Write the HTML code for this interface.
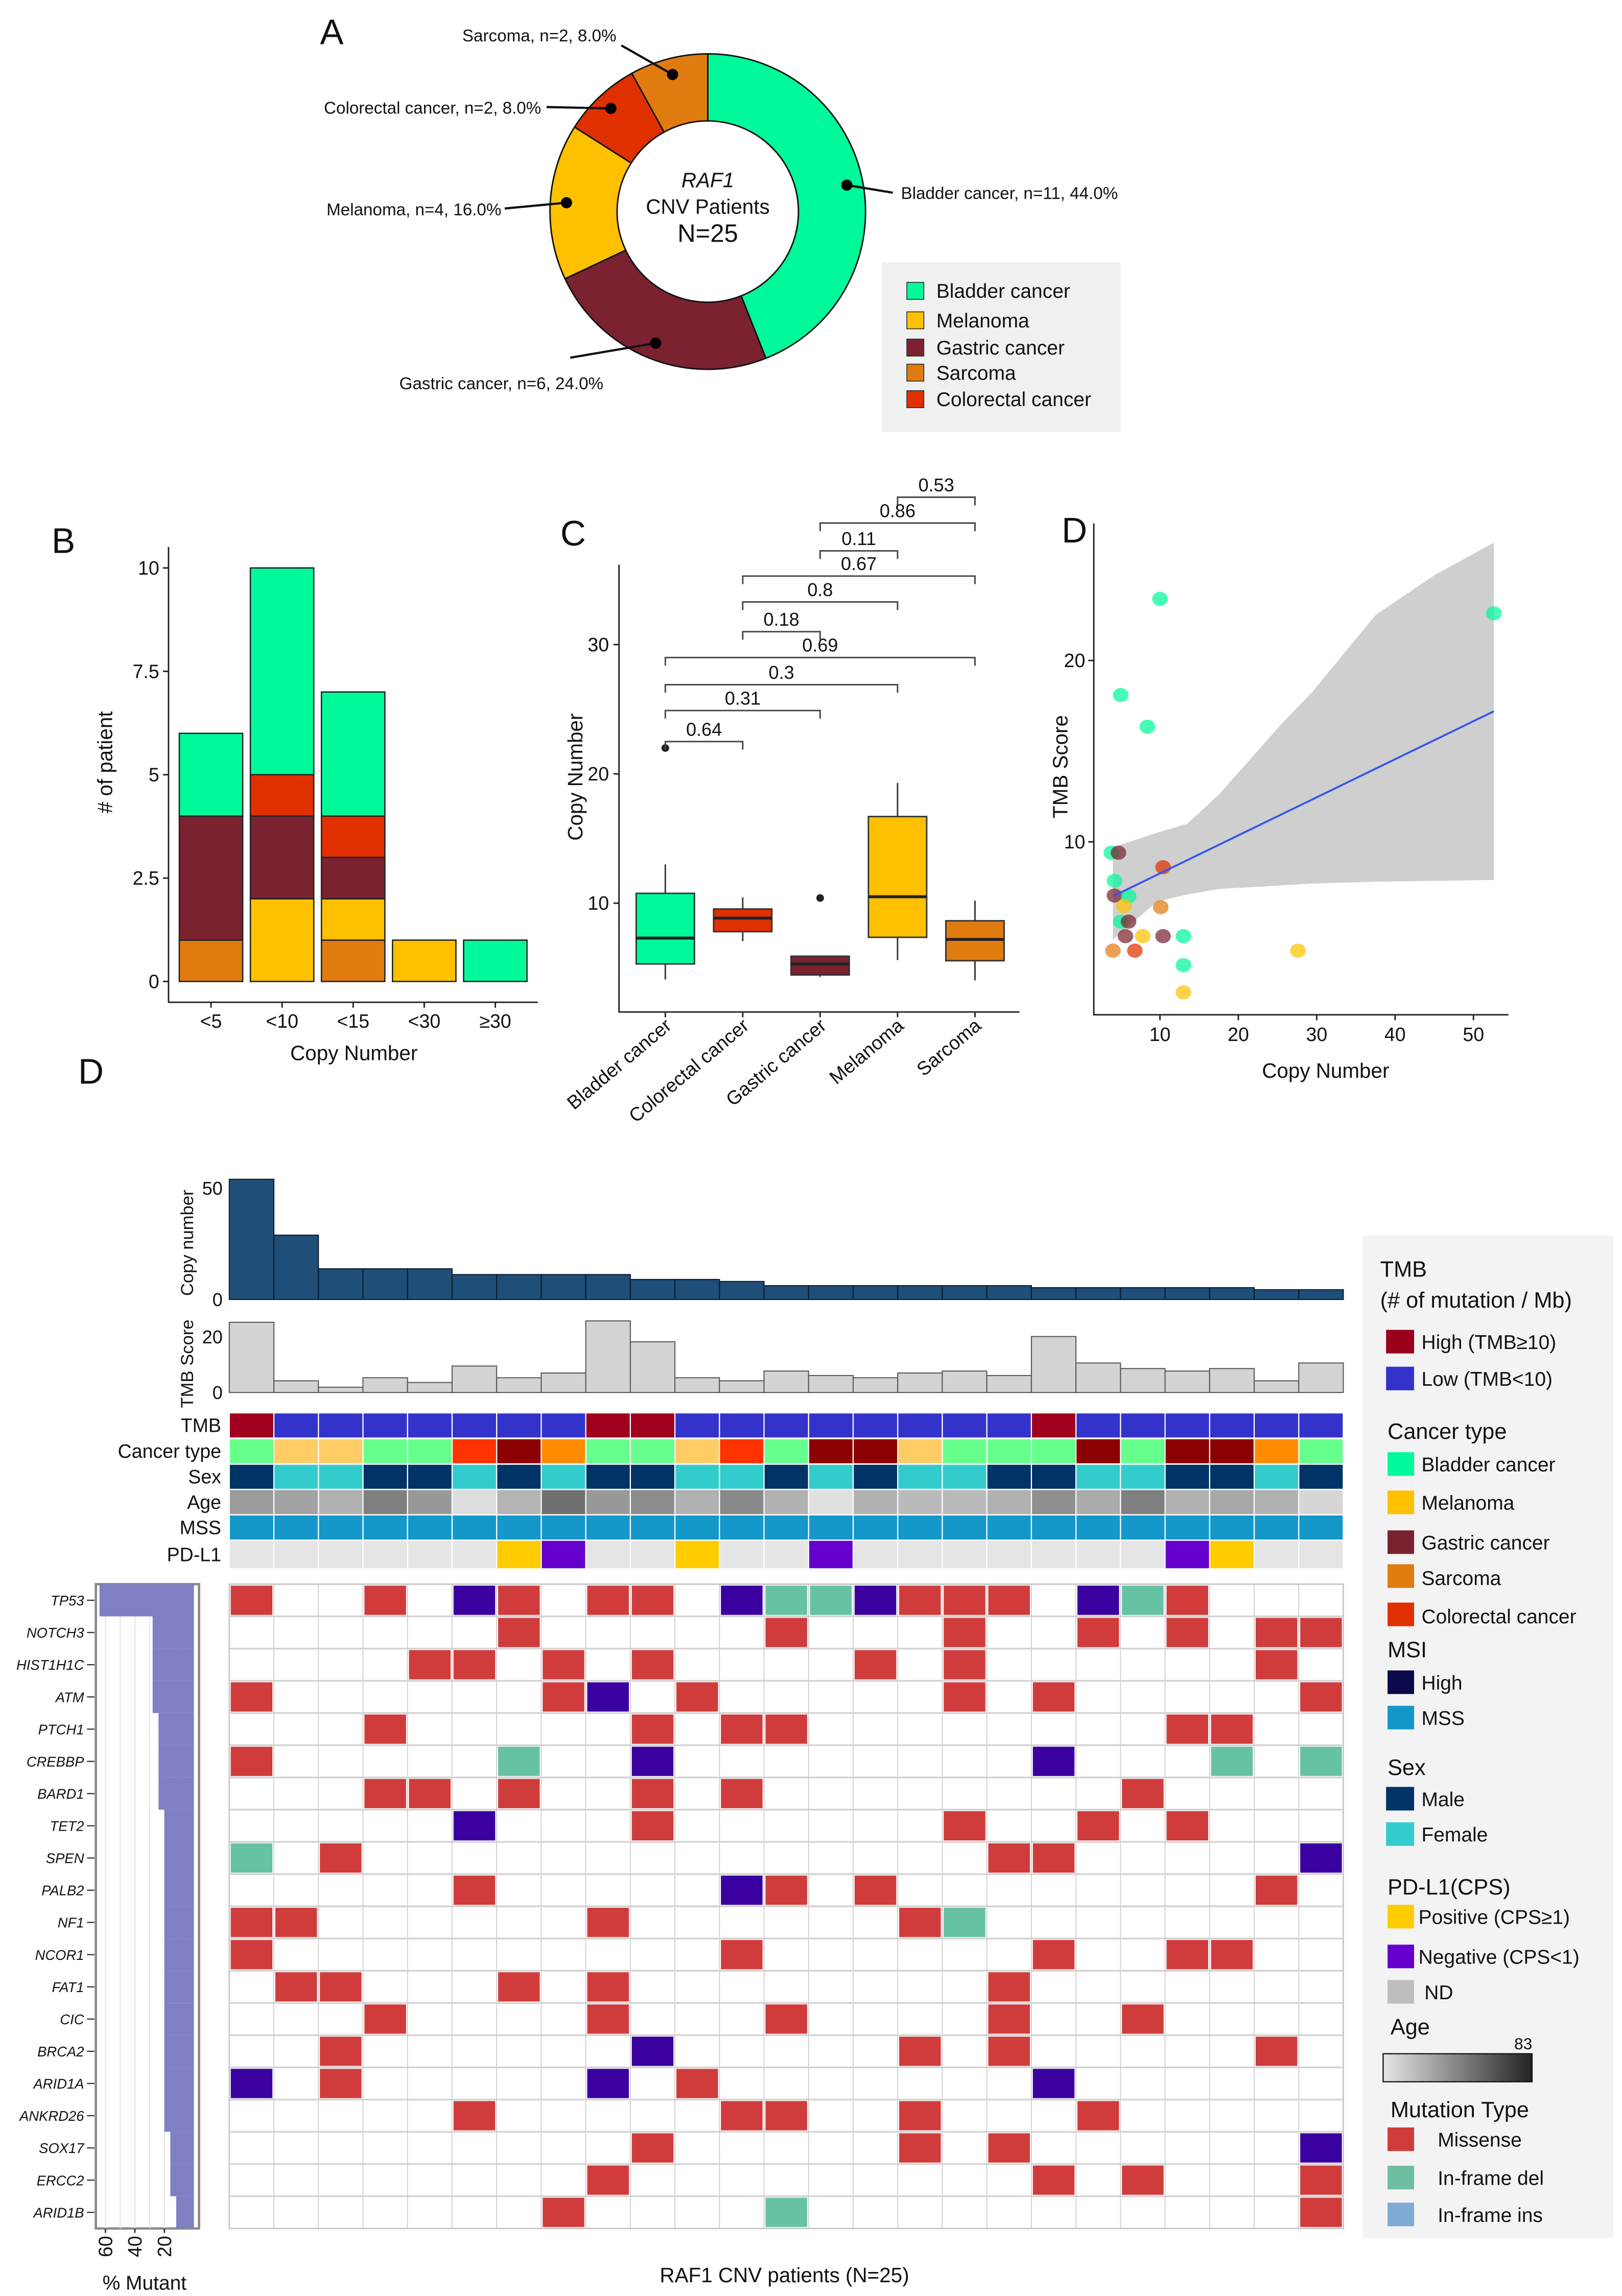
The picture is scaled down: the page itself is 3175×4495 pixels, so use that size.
<!DOCTYPE html>
<html><head><meta charset="utf-8"><title>RAF1 CNV figure</title>
<style>
html,body{margin:0;padding:0;background:#fff;}
svg{display:block;}
text{font-family:"Liberation Sans",Arial,sans-serif;fill:#111;}
</style></head>
<body>
<svg id="fig" xmlns="http://www.w3.org/2000/svg" width="3175" height="4495" viewBox="0 0 1100 1557.3">
<rect x="0" y="0" width="1100" height="1557.3" fill="#fff"/>
<!-- Panel letters -->
<text x="217" y="30" font-size="24">A</text>
<text x="35" y="375" font-size="24">B</text>
<text x="380" y="370" font-size="24">C</text>
<text x="720" y="368" font-size="24">D</text>
<text x="53" y="735" font-size="24">D</text>

<!-- Panel A legend -->
<g>
<rect x="598" y="178" width="162" height="115" fill="#f0f0f0"/>
<rect x="615" y="191.5" width="11.5" height="11.5" fill="#00FA9A" stroke="#333" stroke-width="0.6"/>
<text x="635" y="202" font-size="13.5">Bladder cancer</text>
<rect x="615" y="211.5" width="11.5" height="11.5" fill="#FFC000" stroke="#333" stroke-width="0.6"/>
<text x="635" y="222" font-size="13.5">Melanoma</text>
<rect x="615" y="230" width="11.5" height="11.5" fill="#7B2230" stroke="#333" stroke-width="0.6"/>
<text x="635" y="240.5" font-size="13.5">Gastric cancer</text>
<rect x="615" y="247" width="11.5" height="11.5" fill="#E07B10" stroke="#333" stroke-width="0.6"/>
<text x="635" y="257.5" font-size="13.5">Sarcoma</text>
<rect x="615" y="265" width="11.5" height="11.5" fill="#E03000" stroke="#333" stroke-width="0.6"/>
<text x="635" y="275.5" font-size="13.5">Colorectal cancer</text>
</g>

<!-- Oncoprint legend -->
<g font-size="13.5">
<rect x="924" y="838" width="170" height="680" fill="#f3f3f3"/>
<text x="936" y="866" font-size="15">TMB</text>
<text x="936" y="887" font-size="15">(# of mutation / Mb)</text>
<rect x="940" y="902" width="19" height="16" fill="#99001A"/>
<text x="964" y="915">High (TMB≥10)</text>
<rect x="940" y="927" width="19" height="16" fill="#3333CC"/>
<text x="964" y="940">Low (TMB&lt;10)</text>
<text x="941" y="976" font-size="15">Cancer type</text>
<rect x="941" y="985" width="18" height="16" fill="#00FA9A"/>
<text x="964" y="998">Bladder cancer</text>
<rect x="941" y="1011" width="18" height="16" fill="#FFC000"/>
<text x="964" y="1024">Melanoma</text>
<rect x="941" y="1038" width="18" height="16" fill="#7B2230"/>
<text x="964" y="1051">Gastric cancer</text>
<rect x="941" y="1061" width="18" height="16" fill="#E07B10"/>
<text x="964" y="1075">Sarcoma</text>
<rect x="941" y="1087" width="18" height="16" fill="#E03000"/>
<text x="964" y="1101">Colorectal cancer</text>
<text x="941" y="1124" font-size="15">MSI</text>
<rect x="941" y="1133" width="18" height="16" fill="#0A0A4A"/>
<text x="964" y="1146">High</text>
<rect x="941" y="1157" width="18" height="16" fill="#1497C9"/>
<text x="964" y="1170">MSS</text>
<text x="941" y="1204" font-size="15">Sex</text>
<rect x="940" y="1212" width="19" height="16" fill="#003366"/>
<text x="964" y="1225">Male</text>
<rect x="940" y="1236" width="19" height="16" fill="#33CCCC"/>
<text x="964" y="1249">Female</text>
<text x="941" y="1285" font-size="15">PD-L1(CPS)</text>
<rect x="941" y="1292" width="18" height="16" fill="#FFCC00"/>
<text x="962" y="1305">Positive (CPS≥1)</text>
<rect x="941" y="1319" width="18" height="16" fill="#6600CC"/>
<text x="962" y="1332">Negative (CPS&lt;1)</text>
<rect x="941" y="1343" width="18" height="16" fill="#BDBDBD"/>
<text x="966" y="1356">ND</text>
<text x="943" y="1380" font-size="15">Age</text>
<defs><linearGradient id="ageGrad" x1="0" x2="1" y1="0" y2="0"><stop offset="0" stop-color="#e6e6e6"/><stop offset="1" stop-color="#222"/></linearGradient></defs>
<text x="1033" y="1390" font-size="11" text-anchor="middle">83</text>
<rect x="938" y="1393" width="101" height="19" fill="url(#ageGrad)" stroke="#111" stroke-width="0.8"/>
<text x="943" y="1436" font-size="15">Mutation Type</text>
<rect x="941" y="1443" width="18" height="16" fill="#D03C3C"/>
<text x="975" y="1456">Missense</text>
<rect x="941" y="1469" width="18" height="16" fill="#6DBFA0"/>
<text x="975" y="1482">In-frame del</text>
<rect x="941" y="1494" width="18" height="16" fill="#7FAAD6"/>
<text x="975" y="1507">In-frame ins</text>
</g>

<!-- Axis titles -->
<text transform="translate(76,517) rotate(-90)" font-size="14" text-anchor="middle"># of patient</text>
<text x="240" y="719" font-size="14" text-anchor="middle">Copy Number</text>
<text transform="translate(395,527) rotate(-90)" font-size="14" text-anchor="middle">Copy Number</text>
<text transform="translate(724,520) rotate(-90)" font-size="14" text-anchor="middle">TMB Score</text>
<text x="899" y="731" font-size="14" text-anchor="middle">Copy Number</text>
<text transform="translate(131,843) rotate(-90)" font-size="12" text-anchor="middle">Copy number</text>
<text transform="translate(131,925) rotate(-90)" font-size="12" text-anchor="middle">TMB Score</text>
<text x="532" y="1548" font-size="14" text-anchor="middle">RAF1 CNV patients (N=25)</text>
<text x="98" y="1553" font-size="13.5" text-anchor="middle">% Mutant</text>
</svg>

<script>
// ---------- DATA ----------
const pieCats = ["Bladder cancer","Gastric cancer","Melanoma","Colorectal cancer","Sarcoma"];
const pieCounts = [11,6,4,2,2];

const binCats = ["<5","<10","<15","<30","≥30"];
const binSarcoma = [1,0,1,0,0];
const binMelanoma = [0,2,1,1,0];
const binGastric = [3,2,1,0,0];
const binColorectal = [0,1,1,0,0];
const binBladder = [2,5,3,0,1];
const binTicks = [0,2.5,5,7.5,10];
const binTickLabels = ["0","2.5","5","7.5","10"];

const boxCats = ["Bladder cancer","Colorectal cancer","Gastric cancer","Melanoma","Sarcoma"];
const boxLow = [4.1,7.06,4.3,5.6,4.03];
const boxQ1 = [5.3,7.8,4.45,7.36,5.55];
const boxMed = [7.3,8.85,5.3,10.5,7.2];
const boxQ3 = [10.76,9.55,5.9,16.7,8.64];
const boxHigh = [13.0,10.45,5.9,19.3,10.2];
const boxOutlierCat = [0,2];
const boxOutlierVal = [22,10.4];
const boxTicks = [10,20,30];
const brkFrom = [3,2,2,1,1,1,0,0,0,0];
const brkTo = [4,4,3,4,3,2,4,3,2,1];
const brkLevel = [41.4,39.4,37.25,35.3,33.3,31.0,29.0,26.9,24.9,22.5];
const brkP = ["0.53","0.86","0.11","0.67","0.8","0.18","0.69","0.3","0.31","0.64"];

const scX = [10,52.6,5,8.4,3.8,4.7,4.2,4.2,6,5.4,5,6,5.6,7.8,10.4,13,4,6.8,27.6,13,13,10.1,10.4];
const scY = [23.4,22.6,18.1,16.35,9.4,9.4,7.85,7.04,7.0,6.46,5.6,5.6,4.8,4.8,4.8,4.8,4.0,4.0,4.0,3.2,1.7,6.4,8.6];
const scType = ["B","B","B","B","B","G","B","G","B","M","B","G","G","M","G","B","S","C","M","B","M","S","C"];
const fitX = [4,52.6];
const fitY = [7.0,17.2];
const bandX = [4,9.6,13.5,17.5,25.5,29.5,37.5,45,52.6];
const bandHi = [9.7,10.5,11.0,12.6,16.5,18.3,22.5,24.7,26.5];
const bandLo = [4.6,6.7,7.1,7.4,7.6,7.7,7.8,7.85,7.9];
const scXTicks = [10,20,30,40,50];
const scYTicks = [10,20];

const cnvVals = [54,28.9,13.8,13.8,13.8,11.2,11.2,11.2,11.2,9,9,8.1,6.2,6.2,6.2,6.2,6.2,6.2,5.3,5.3,5.3,5.3,5.3,4.4,4.4];
const tmbVals = [25.2,4.2,1.9,5.3,3.6,9.5,5.3,7.0,25.7,18.2,5.3,4.2,7.7,6.1,5.3,7.0,7.7,6.1,20.1,10.6,8.6,7.7,8.6,4.2,10.6];
const tmbClass = ["H","L","L","L","L","L","L","L","H","H","L","L","L","L","L","L","L","L","H","L","L","L","L","L","L"];
const cancerType = ["B","M","M","B","B","C","G","S","B","B","M","C","B","G","G","M","B","B","B","G","B","G","G","S","B"];
const sexVals = ["M","F","F","M","M","F","M","F","M","M","F","F","M","F","M","F","F","M","M","F","F","M","M","F","M"];
const ageVals = [44,42,37,53,45,23,36,58,45,49,37,50,37,22,37,34,34,37,48,39,53,37,40,37,25];
const msiVals = ["S","S","S","S","S","S","S","S","S","S","S","S","S","S","S","S","S","S","S","S","S","S","S","S","S"];
const pdl1Vals = ["N","N","N","N","N","N","P","G","N","N","P","N","N","G","N","N","N","N","N","N","N","G","P","N","N"];

const genes = ["TP53","NOTCH3","HIST1H1C","ATM","PTCH1","CREBBP","BARD1","TET2","SPEN","PALB2","NF1","NCOR1","FAT1","CIC","BRCA2","ARID1A","ANKRD26","SOX17","ERCC2","ARID1B"];
const genePct = [64,28,28,28,24,24,24,20,20,20,20,20,20,20,20,20,20,16,16,12];
const mutMissense = [[1,4,7,9,10,16,17,18,22],[7,13,17,20,22,24,25],[5,6,8,10,15,17,24],[1,8,11,17,19,25],[4,10,12,13,22,23],[1],[4,5,7,10,12,21],[10,17,20,22],[3,18,19],[6,13,15,24],[1,2,9,16],[1,12,19,22,23],[2,3,7,9,18],[4,9,13,18,21],[3,16,18,24],[3,11],[6,12,13,16,20],[10,16,18],[9,19,21,25],[8,25]];
const mutPurple = [[6,12,15,20],[],[],[9],[],[10,19],[],[6],[25],[12],[],[],[],[],[10],[1,9,19],[],[25],[],[]];
const mutDel = [[13,14,21],[],[],[],[],[7,23,25],[],[],[1],[],[17],[],[],[],[],[],[],[],[],[13]];
const geneTicks = [60,40,20];

// ---------- HELPERS ----------
const NS = "http://www.w3.org/2000/svg";
const svg = document.getElementById("fig");
function mk(tag, attrs, parent){
  const e = document.createElementNS(NS, tag);
  for (const k in attrs) e.setAttribute(k, attrs[k]);
  (parent || svg).appendChild(e);
  return e;
}
function grp(){ return mk("g", {}); }
const typeColor = {B:"#00FA9A", M:"#FFC000", G:"#7B2230", S:"#E07B10", C:"#E03000"};
const pieColors = ["#00FA9A","#7B2230","#FFC000","#E03000","#E07B10"];
const trackCancerColor = {B:"#66FF8C", M:"#FFCC66", G:"#8B0000", S:"#FF8C00", C:"#FF3300"};

// ---------- PANEL A: DONUT ----------
(function(){
  const g = grp();
  
  
  const cx = 480, cy = 143.5, R = 107, r = 61.5;
  const total = pieCounts.reduce((a,b)=>a+b,0);
  let a0 = -Math.PI/2;
  const mids = [];
  pieCounts.forEach((c,i)=>{
    const a1 = a0 + c/total*2*Math.PI;
    const large = (a1-a0) > Math.PI ? 1 : 0;
    const p = (a,rad)=>[cx+rad*Math.cos(a), cy+rad*Math.sin(a)];
    const [x1,y1]=p(a0,R),[x2,y2]=p(a1,R),[x3,y3]=p(a1,r),[x4,y4]=p(a0,r);
    const path = mk("path",{d:`M${x1},${y1} A${R},${R} 0 ${large} 1 ${x2},${y2} L${x3},${y3} A${r},${r} 0 ${large} 0 ${x4},${y4} Z`, fill:pieColors[i], stroke:"#111", "stroke-width":1}, g);
    
    
    mids.push((a0+a1)/2);
    a0 = a1;
  });
  // leader lines + dots
  const labelEnds = [[605.5,130.7],[386.7,242.6],[342.3,141.4],[370.7,72.6],[421.4,30.8]];
  const labels = ["Bladder cancer, n=11, 44.0%","Gastric cancer, n=6, 24.0%","Melanoma, n=4, 16.0%","Colorectal cancer, n=2, 8.0%","Sarcoma, n=2, 8.0%"];
  const labelPos = [[611,135,"start"],[340,264,"middle"],[340,146,"end"],[367,77,"end"],[418,28,"end"]];
  mids.forEach((a,i)=>{
    const dx = cx + 96*Math.cos(a), dy = cy + 96*Math.sin(a);
    const ln = mk("line",{x1:dx,y1:dy,x2:labelEnds[i][0],y2:labelEnds[i][1],stroke:"#111","stroke-width":1.5}, g);
    
    
    const dot = mk("circle",{cx:dx,cy:dy,r:3.8,fill:"#000"}, g);
    
    
    const t = mk("text",{x:labelPos[i][0],y:labelPos[i][1],"font-size":11.5,"text-anchor":labelPos[i][2]}, g);
    t.textContent = labels[i];
    
    
  });
  const t1 = mk("text",{x:cx,y:127,"font-size":14,"font-style":"italic","text-anchor":"middle"}, g);
  t1.textContent = "RAF1";
  
  
  const t2 = mk("text",{x:cx,y:145,"font-size":14,"text-anchor":"middle"}, g);
  t2.textContent = "CNV Patients";
  
  
  const t3 = mk("text",{x:cx,y:164,"font-size":17,"text-anchor":"middle"}, g);
  t3.textContent = "N=25";
  
  
})();

// ---------- PANEL B: STACKED BARS ----------
(function(){
  const g = grp();
  
  
  const y0 = 665.7, k = 28.05, xc0 = 143.1, dx = 48.2, w = 43;
  const yS = v => y0 - v*k;
  const ax = mk("path",{d:"M114.3,371 L114.3,679.8 L364.7,679.8",fill:"none",stroke:"#222","stroke-width":1}, g);
  
  
  binTicks.forEach((v,i)=>{
    const tk = mk("line",{x1:110.5,x2:114.3,y1:yS(v),y2:yS(v),stroke:"#222"}, g);
    
    
    const t = mk("text",{x:108,y:yS(v)+4.5,"font-size":13,"text-anchor":"end","fill":"#222"}, g);
    t.textContent = binTickLabels[i];
    
    
  });
  const series = [[binSarcoma,"#E07B10","sarcoma"],[binMelanoma,"#FFC000","melanoma"],[binGastric,"#7B2230","gastric"],[binColorectal,"#E03000","colorectal"],[binBladder,"#00FA9A","bladder"]];
  binCats.forEach((c,i)=>{
    const xc = xc0 + i*dx;
    let acc = 0;
    series.forEach(s=>{
      const v = s[0][i];
      if (v>0){
        const r = mk("rect",{x:xc-w/2,y:yS(acc+v),width:w,height:v*k,fill:s[1],stroke:"#222","stroke-width":0.9}, g);
        
        
      }
      acc += v;
    });
    const tk = mk("line",{x1:xc,x2:xc,y1:679.8,y2:683.5,stroke:"#222"}, g);
    
    
    const t = mk("text",{x:xc,y:697,"font-size":13,"text-anchor":"middle","fill":"#222"}, g);
    t.textContent = c;
    
    
  });
})();

// ---------- PANEL C: BOXPLOT ----------
(function(){
  const g = grp();
  
  
  const y0 = 700.3, k = 8.77, xc0 = 451.2, dx = 52.5, w = 39.5;
  const yS = v => y0 - v*k;
  const xS = i => xc0 + i*dx;
  const boxCol = ["#00FA9A","#E03000","#7B2230","#FFC000","#E07B10"];
  const ax = mk("path",{d:"M419.8,383 L419.8,686.4 L691.4,686.4",fill:"none",stroke:"#222","stroke-width":1}, g);
  
  
  boxTicks.forEach(v=>{
    const tk = mk("line",{x1:416,x2:419.8,y1:yS(v),y2:yS(v),stroke:"#222"}, g);
    
    
    const t = mk("text",{x:413,y:yS(v)+4.5,"font-size":13,"text-anchor":"end","fill":"#222"}, g);
    t.textContent = String(v);
    
    
  });
  boxCats.forEach((c,i)=>{
    const x = xS(i);
    const wl = mk("line",{x1:x,x2:x,y1:yS(boxLow[i]),y2:yS(boxHigh[i]),stroke:"#333","stroke-width":1}, g);
    
    
    const b = mk("rect",{x:x-w/2,y:yS(boxQ3[i]),width:w,height:(boxQ3[i]-boxQ1[i])*k,fill:boxCol[i],stroke:"#333","stroke-width":1}, g);
    
    
    const m = mk("line",{x1:x-w/2,x2:x+w/2,y1:yS(boxMed[i]),y2:yS(boxMed[i]),stroke:"#222","stroke-width":2}, g);
    
    
    const tk = mk("line",{x1:x,x2:x,y1:686.4,y2:690,stroke:"#222"}, g);
    
    
    const t = mk("text",{transform:`translate(${x+5},${697}) rotate(-40)`,"font-size":13,"text-anchor":"end","fill":"#222"}, g);
    t.textContent = c;
    
    
  });
  boxOutlierCat.forEach((ci,j)=>{
    const o = mk("circle",{cx:xS(ci),cy:yS(boxOutlierVal[j]),r:2.6,fill:"#222"}, g);
    
    
  });
  brkP.forEach((p,j)=>{
    const x1 = xS(brkFrom[j]), x2 = xS(brkTo[j]), y = yS(brkLevel[j]);
    const br = mk("path",{d:`M${x1},${y+5.5} L${x1},${y} L${x2},${y} L${x2},${y+5.5}`,fill:"none",stroke:"#444","stroke-width":1}, g);
    
    
    const t = mk("text",{x:(x1+x2)/2,y:y-4,"font-size":12.5,"text-anchor":"middle","fill":"#222"}, g);
    t.textContent = p;
    
    
  });
})();

// ---------- PANEL D: SCATTER ----------
(function(){
  const g = grp();
  
  
  const xS = v => 733.5 + v*5.315;
  const yS = v => 694 - v*12.3;
  let d = "";
  bandX.forEach((x,i)=>{ d += (i?"L":"M") + xS(x) + "," + yS(bandHi[i]) + " "; });
  for (let i=bandX.length-1;i>=0;i--) d += "L" + xS(bandX[i]) + "," + yS(bandLo[i]) + " ";
  const band = mk("path",{d:d+"Z",fill:"#cfcfcf",stroke:"none"}, g);
  
  
  const ax = mk("path",{d:"M741.8,355 L741.8,688.3 L1023,688.3",fill:"none",stroke:"#222","stroke-width":1}, g);
  
  
  scXTicks.forEach(v=>{
    const tk = mk("line",{x1:xS(v),x2:xS(v),y1:688.3,y2:692,stroke:"#222"}, g);
    
    
    const t = mk("text",{x:xS(v),y:706,"font-size":13,"text-anchor":"middle","fill":"#222"}, g);
    t.textContent = String(v);
    
    
  });
  scYTicks.forEach(v=>{
    const tk = mk("line",{x1:738,x2:741.8,y1:yS(v),y2:yS(v),stroke:"#222"}, g);
    
    
    const t = mk("text",{x:736,y:yS(v)+4.5,"font-size":13,"text-anchor":"end","fill":"#222"}, g);
    t.textContent = String(v);
    
    
  });
  scX.forEach((x,i)=>{
    const c = mk("ellipse",{cx:xS(x),cy:yS(scY[i]),rx:5.3,ry:4.8,fill:typeColor[scType[i]],"fill-opacity":0.72}, g);
    
    
  });
  const fl = mk("line",{x1:xS(fitX[0]),y1:yS(fitY[0]),x2:xS(fitX[1]),y2:yS(fitY[1]),stroke:"#3355EE","stroke-width":1.3}, g);
  
  
})();

// ---------- ONCOPRINT ----------
(function(){
  const g = grp();
  
  
  const x0 = 155.5, cw = 30.22;
  const colX = i => x0 + i*cw;
  // copy number bars
  const cy0 = 881.4, ck = 1.51;
  cnvVals.forEach((v,i)=>{
    const r = mk("rect",{x:colX(i),y:cy0-v*ck,width:cw,height:v*ck,fill:"#1F4E79",stroke:"#0b1a2a","stroke-width":0.7}, g);
    
    
  });
  [[0,"0"],[50,"50"]].forEach(t0=>{
    const t = mk("text",{x:151,y:cy0-t0[0]*ck+4.5,"font-size":12.5,"text-anchor":"end"}, g);
    t.textContent = t0[1];
    
    
  });
  // TMB bars
  const ty0 = 944.5, tk = 1.89;
  tmbVals.forEach((v,i)=>{
    const r = mk("rect",{x:colX(i),y:ty0-v*tk,width:cw,height:v*tk,fill:"#D3D3D3",stroke:"#555","stroke-width":0.7}, g);
    
    
  });
  [[0,"0"],[20,"20"]].forEach(t0=>{
    const t = mk("text",{x:151,y:ty0-t0[0]*tk+4.5,"font-size":12.5,"text-anchor":"end"}, g);
    t.textContent = t0[1];
    
    
  });
  // tracks
  const trackNames = ["TMB","Cancer type","Sex","Age","MSS","PD-L1"];
  const trackY = [958.7,976.2,993.5,1010.7,1027.9,1045.1];
  const trackH = [16.3,16.3,16.3,16.3,16.3,18.6];
  const ageColor = a => { const L = Math.round(230 - (a-20)/63*196); return `rgb(${L},${L},${L})`; };
  const trackColor = [
    i => tmbClass[i]==="H" ? "#A0001E" : "#3333CC",
    i => trackCancerColor[cancerType[i]],
    i => sexVals[i]==="M" ? "#003366" : "#33CCCC",
    i => ageColor(ageVals[i]),
    i => msiVals[i]==="S" ? "#1497C9" : "#0A0A4A",
    i => pdl1Vals[i]==="P" ? "#FFCC00" : (pdl1Vals[i]==="G" ? "#6600CC" : "#E5E5E5")
  ];
  trackNames.forEach((nm,t)=>{
    const lab = mk("text",{x:150,y:trackY[t]+trackH[t]/2+4.5,"font-size":13,"text-anchor":"end"}, g);
    lab.textContent = nm;
    
    
    for (let i=0;i<25;i++){
      const r = mk("rect",{x:colX(i)+0.4,y:trackY[t],width:cw-0.8,height:trackH[t],fill:trackColor[t](i)}, g);
      
      
    }
  });
  // mutation matrix
  const my0 = 1074.5, rh = 21.85;
  const bg = mk("rect",{x:x0,y:my0,width:25*cw,height:20*rh,fill:"#fff",stroke:"#c8c8c8","stroke-width":1}, g);
  
  
  for (let i=1;i<25;i++){
    const l = mk("line",{x1:colX(i),x2:colX(i),y1:my0,y2:my0+20*rh,stroke:"#cccccc","stroke-width":0.6}, g);
    
    
  }
  for (let r=1;r<20;r++){
    const l = mk("line",{x1:x0,x2:x0+25*cw,y1:my0+r*rh,y2:my0+r*rh,stroke:"#d3d3d3","stroke-width":1.2}, g);
    
    
  }
  const addCells = (lists, color, kind) => {
    lists.forEach((cols,r)=>{
      cols.forEach(c=>{
        const e = mk("rect",{x:colX(c-1)+1,y:my0+r*rh+1,width:cw-2,height:rh-2,fill:color}, g);
        
        
      });
    });
  };
  addCells(mutMissense, "#D03C3C", "missense");
  addCells(mutPurple, "#3A00A0", "inframe-ins");
  addCells(mutDel, "#66C2A2", "inframe-del");
  // gene percentage bar
  const gx0 = 131.5;
  const box = mk("rect",{x:65,y:my0,width:70,height:20*rh,fill:"#fff",stroke:"#8a8a8a","stroke-width":1.6}, g);
  
  
  for (let p=10;p<=60;p+=10){
    const l = mk("line",{x1:gx0-p,x2:gx0-p,y1:my0,y2:my0+20*rh,stroke:"#e6e6e6","stroke-width":0.8}, g);
    
    
  }
  genes.forEach((gn,r)=>{
    const b = mk("rect",{x:gx0-genePct[r],y:my0+r*rh,width:genePct[r],height:rh,fill:"#7F7FC4"}, g);
    
    
    const tl = mk("line",{x1:59,x2:64,y1:my0+r*rh+rh/2,y2:my0+r*rh+rh/2,stroke:"#333","stroke-width":0.8}, g);
    
    
    const t = mk("text",{x:57,y:my0+r*rh+rh/2+3.5,"font-size":9.5,"font-style":"italic","text-anchor":"end"}, g);
    t.textContent = gn;
    
    
  });
  geneTicks.forEach(v=>{
    const tk2 = mk("line",{x1:gx0-v,x2:gx0-v,y1:my0+20*rh,y2:my0+20*rh+3,stroke:"#333"}, g);
    
    
    const t = mk("text",{transform:`translate(${gx0-v+4.5},${my0+20*rh+5}) rotate(-90)`,"font-size":13,"text-anchor":"end"}, g);
    t.textContent = String(v);
    
    
  });
})();
</script>
</body></html>
